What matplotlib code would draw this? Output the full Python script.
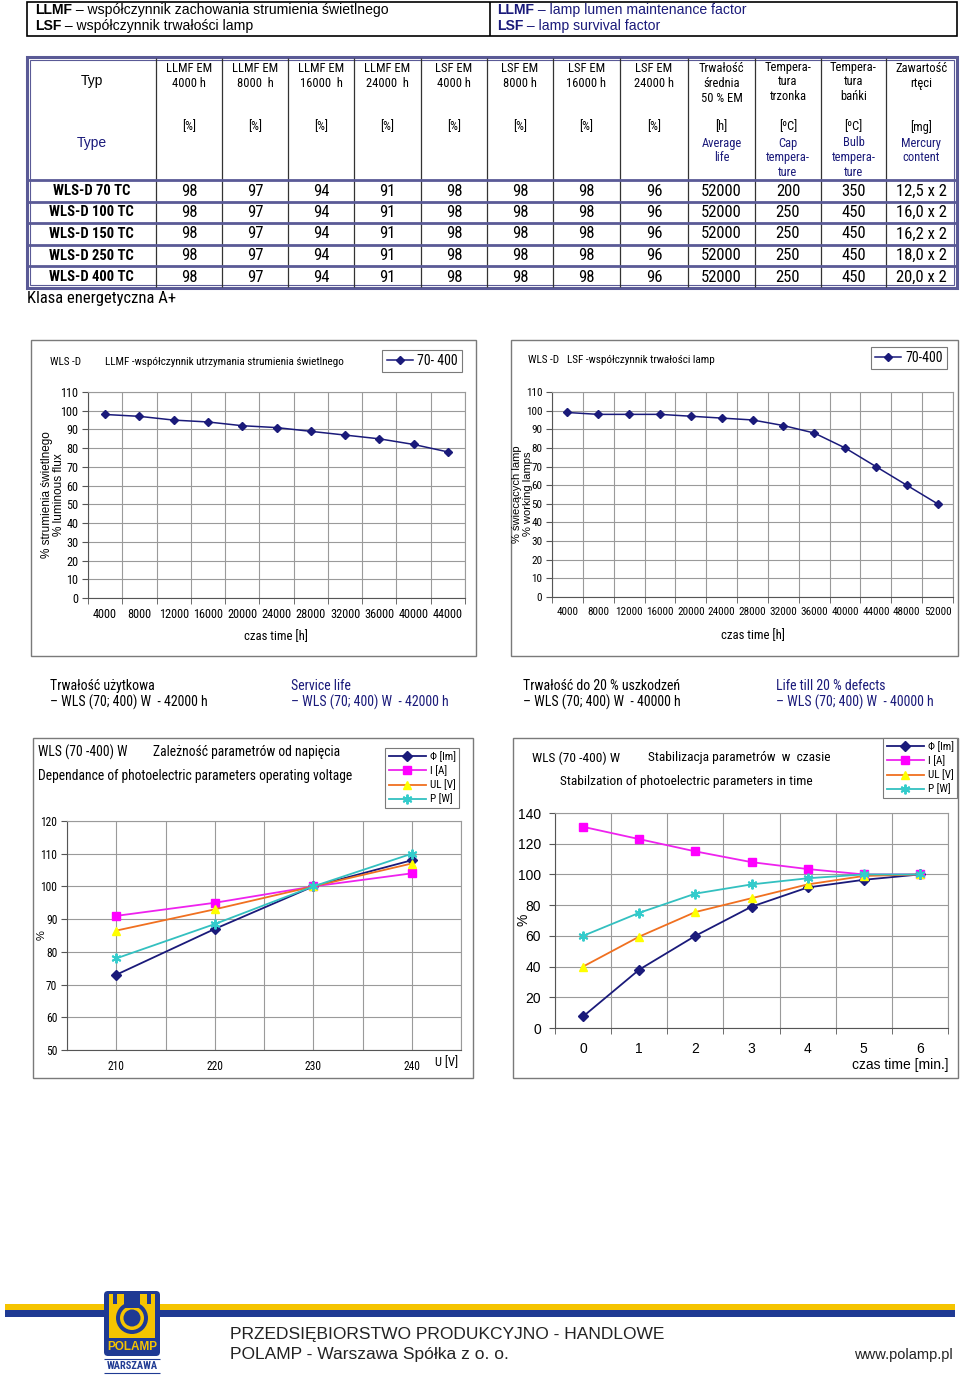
import numpy as np
import matplotlib
matplotlib.use("Agg")
import matplotlib.pyplot as plt
from matplotlib import font_manager as fm
from matplotlib.patches import Rectangle, FancyBboxPatch, Circle
from matplotlib.lines import Line2D

# -------------------------------------------------------------
#  DATA
# -------------------------------------------------------------

lamp_types = ["WLS-D 70 TC", "WLS-D 100 TC", "WLS-D 150 TC", "WLS-D 250 TC", "WLS-D 400 TC"]
llmf_table = [98, 97, 94, 91]          # LLMF EM 4000 / 8000 / 16000 / 24000 h
lsf_table = [98, 98, 98, 96]           # LSF EM 4000 / 8000 / 16000 / 24000 h
average_life = [52000, 52000, 52000, 52000, 52000]
cap_temp = [200, 250, 250, 250, 250]
bulb_temp = [350, 450, 450, 450, 450]
mercury = ["12,5 x 2", "16,0 x 2", "16,2 x 2", "18,0 x 2", "20,0 x 2"]

llmf_hours = [4000, 8000, 12000, 16000, 20000, 24000, 28000, 32000, 36000, 40000, 44000]
llmf_values = [98, 97, 95, 94, 92, 91, 89, 87, 85, 82, 78]

lsf_hours = [4000, 8000, 12000, 16000, 20000, 24000, 28000, 32000, 36000, 40000, 44000, 48000, 52000]
lsf_values = [99, 98, 98, 98, 97, 96, 95, 92, 88, 80, 70, 60, 50]

voltage = [210, 220, 230, 240]
v_flux = [73, 87, 100, 108]
v_current = [91, 95, 100, 104]
v_lamp_voltage = [86.5, 93, 100, 107]
v_power = [78, 88.5, 100, 110]

minutes = [0, 1, 2, 3, 4, 5, 6]
t_flux = [7.5, 38, 60, 79, 91.5, 96.5, 100]
t_current = [131, 123, 115, 108, 103.5, 100, 100]
t_lamp_voltage = [40, 59.5, 75.5, 84.5, 93.5, 99, 100]
t_power = [60, 75, 87.5, 93.5, 97.5, 100, 100]

series_names = ["Φ [lm]", "I [A]", "UL [V]", "P [W]"]

# -------------------------------------------------------------
#  FONTS  (look for a narrow face, otherwise shrink Liberation Sans)
# -------------------------------------------------------------

SANS = ["Liberation Sans", "DejaVu Sans"]
entries = fm.fontManager.ttflist
names = {f.name for f in entries}
NARROW, NSTRETCH, NS = SANS, "normal", 0.84
for cand in ["Liberation Sans Narrow", "Arial Narrow", "Roboto Condensed", "Open Sans Condensed"]:
    if cand in names:
        NARROW, NSTRETCH, NS = [cand, "DejaVu Sans"], "normal", 1.0
        break
else:
    for fam in ["Roboto", "Open Sans", "Noto Sans", "DejaVu Sans"]:
        if any(f.name == fam and f.stretch in ("condensed", "semi-condensed") for f in entries):
            NARROW, NSTRETCH, NS = [fam, "DejaVu Sans"], "condensed", 0.95
            break

W, H = 960, 1377
NAVY = "#1a1a7a"
GRID = "#9a9a9a"
FRAME = "#7a7a7a"
BORDER = "#5a5a96"

plt.rcParams["font.family"] = SANS

fig = plt.figure(figsize=(W / 100, H / 100), dpi=100)
fig.patch.set_facecolor("white")

bg = fig.add_axes([0, 0, 1, 1])
bg.set_xlim(0, W)
bg.set_ylim(H, 0)
bg.axis("off")


def nprop(size):
    return {"family": NARROW, "size": size * NS, "stretch": NSTRETCH}


def txt(x, y, s, size=10, narrow=False, ha="left", color="black", weight="normal", **kw):
    if narrow:
        return bg.text(x, y, s, fontsize=size * NS, family=NARROW, fontstretch=NSTRETCH,
                       ha=ha, va="center", color=color, fontweight=weight, **kw)
    return bg.text(x, y, s, fontsize=size, family=SANS, ha=ha, va="center",
                   color=color, fontweight=weight, **kw)


def hline(x0, x1, y, lw=1, color="black"):
    bg.plot([x0, x1], [y, y], color=color, lw=lw, solid_capstyle="butt")


def vline(x, y0, y1, lw=1, color="black"):
    bg.plot([x, x], [y0, y1], color=color, lw=lw, solid_capstyle="butt")


def ax_at(x0, y0, x1, y1):
    return fig.add_axes([x0 / W, 1 - y1 / H, (x1 - x0) / W, (y1 - y0) / H])


renderer = fig.canvas.get_renderer()


def bold_then_normal(x, y, bold, rest, size, color="black"):
    t = txt(x, y, bold, size, color=color, weight="bold")
    w = t.get_window_extent(renderer).width
    txt(x + w, y, rest, size, color=color)


# -------------------------------------------------------------
#  TOP BOX
# -------------------------------------------------------------

bg.add_patch(Rectangle((27, 2), 930, 34, fill=False, lw=1.2, ec="black"))
vline(490, 2, 36, lw=1.2)
bold_then_normal(35, 10, "LLMF", " – współczynnik zachowania strumienia świetlnego", 10.1)
bold_then_normal(35, 26, "LSF", " – współczynnik trwałości lamp", 10.1)
bold_then_normal(497, 10, "LLMF", " – lamp lumen maintenance factor", 10.1, color=NAVY)
bold_then_normal(497, 26, "LSF", " – lamp survival factor", 10.1, color=NAVY)

# -------------------------------------------------------------
#  TABLE
# -------------------------------------------------------------

col_edges = [27, 156, 222, 288, 354, 421, 487, 553, 620, 688, 755, 821, 886, 957]
row_edges = [57, 180, 202, 223, 245, 266, 288]
centers = [(col_edges[i] + col_edges[i + 1]) / 2 for i in range(len(col_edges) - 1)]

bg.add_patch(Rectangle((27, 57), 930, 231, fill=False, lw=2.2, ec=BORDER))
bg.add_patch(Rectangle((30, 60), 924, 225, fill=False, lw=0.8, ec=BORDER))
for x in col_edges[1:-1]:
    vline(x, 58, 287, lw=0.9, color="#333333")
for y in row_edges[1:-1]:
    hline(28, 956, y, lw=2.0, color=BORDER)

hdr_top = [["LLMF EM", "4000 h"], ["LLMF EM", "8000  h"], ["LLMF EM", "16000  h"],
           ["LLMF EM", "24000  h"], ["LSF EM", "4000 h"], ["LSF EM", "8000 h"],
           ["LSF EM", "16000 h"], ["LSF EM", "24000 h"],
           ["Trwałość", "średnia", "50 % EM"], ["Tempera-", "tura", "trzonka"],
           ["Tempera-", "tura", "bańki"], ["Zawartość", "rtęci"]]
hdr_unit = ["[%]"] * 8 + ["[h]", "[ºC]", "[ºC]", "[mg]"]
hdr_en = [[], [], [], [], [], [], [], [], ["Average", "life"], ["Cap", "tempera-", "ture"],
          ["Bulb", "tempera-", "ture"], ["Mercury", "content"]]

txt(centers[0], 81, "Typ", 10, ha="center")
txt(centers[0], 143, "Type", 10, ha="center", color=NAVY)
for i, lines in enumerate(hdr_top):
    y0 = 67 if lines[0].startswith("Tempera") else 69
    for k, s in enumerate(lines):
        txt(centers[i + 1], y0 + 14.5 * k, s, 9, narrow=True, ha="center")
    txt(centers[i + 1], 127, hdr_unit[i], 9, narrow=True, ha="center")
    for k, s in enumerate(hdr_en[i]):
        txt(centers[i + 1], 143 + 14.5 * k, s, 9, narrow=True, ha="center", color=NAVY)

for r, name in enumerate(lamp_types):
    y = (row_edges[r + 1] + row_edges[r + 2]) / 2
    txt(centers[0], y, name, 10.5, narrow=True, ha="center", weight="bold")
    vals = llmf_table + lsf_table + [average_life[r], cap_temp[r], bulb_temp[r]]
    for c, v in enumerate(vals):
        txt(centers[c + 1], y, str(v), 12, narrow=True, ha="center")
    txt(centers[12], y, mercury[r], 12, narrow=True, ha="center")

txt(27, 298, "Klasa energetyczna A+", 12, narrow=True)

# -------------------------------------------------------------
#  CHART HELPERS
# -------------------------------------------------------------


def style_axes(ax, n, ylim, ystep, labels, tick_size=8, half_grid=False, narrow=True):
    x = np.arange(n)
    ax.set_xlim(-0.5, n - 0.5)
    ax.set_ylim(*ylim)
    ax.set_yticks(np.arange(ylim[0], ylim[1] + 0.1, ystep))
    ax.set_xticks(x)
    ax.set_xticklabels(labels)
    ax.set_xticks(np.arange(-0.5, n, 1.0 if not half_grid else 0.5), minor=True)
    ax.grid(True, which="minor", axis="x", color=GRID, lw=0.8)
    ax.grid(True, which="major", axis="y", color=GRID, lw=0.8)
    if half_grid:
        ax.grid(True, which="major", axis="x", color=GRID, lw=0.8)
    ax.tick_params(axis="x", which="major", length=0, pad=7)
    ax.tick_params(axis="x", which="minor", length=4, color="#555555")
    ax.tick_params(axis="y", length=4, color="#555555", pad=3)
    for lab in ax.get_xticklabels() + ax.get_yticklabels():
        if narrow:
            lab.set_family(NARROW)
            lab.set_fontstretch(NSTRETCH)
            lab.set_fontsize(tick_size * NS)
        else:
            lab.set_family(SANS)
            lab.set_fontsize(tick_size)
    for side in ["top", "right"]:
        ax.spines[side].set_color(GRID)
        ax.spines[side].set_linewidth(0.8)
    for side in ["left", "bottom"]:
        ax.spines[side].set_color("#555555")
        ax.spines[side].set_linewidth(0.8)
    ax.set_axisbelow(True)


def legend_at(ax, handles, labels, x1, y0, size=8.5, hl=2.6):
    lg = ax.legend(handles=handles, labels=labels, loc="upper right",
                   bbox_to_anchor=(x1 / W, 1 - y0 / H),
                   bbox_transform=fig.transFigure, borderaxespad=0, fancybox=False,
                   edgecolor=FRAME, framealpha=1, handlelength=hl, handletextpad=0.3,
                   borderpad=0.3, labelspacing=0.3, prop=nprop(size))
    lg.get_frame().set_linewidth(0.8)
    return lg


# -------------------------------------------------------------
#  CHART 1 - LLMF
# -------------------------------------------------------------

bg.add_patch(Rectangle((31, 340), 445, 316, fill=False, lw=1, ec=FRAME))
ax1 = ax_at(88, 392, 465, 598)
style_axes(ax1, len(llmf_hours), (0, 110), 10, [str(h) for h in llmf_hours], tick_size=8.8)
ax1.plot(np.arange(len(llmf_hours)), llmf_values, color=NAVY, lw=1.1,
         marker="D", ms=4, mfc=NAVY, mec=NAVY)
txt(50, 362, "WLS -D", 8, narrow=True)
txt(105, 362, "LLMF -współczynnik utrzymania strumienia świetlnego", 8, narrow=True)
txt(276, 637, "czas time [h]", 9.2, narrow=True, ha="center")
txt(47, 495, "% strumienia świetlnego", 8.5, ha="center", rotation=90)
txt(59, 495, "% luminous flux", 8.5, ha="center", rotation=90)
legend_at(ax1, [Line2D([], [], color=NAVY, marker="D", ms=4, lw=1.1)], ["70- 400"], 462, 350,
          size=10, hl=1.9)

# -------------------------------------------------------------
#  CHART 2 - LSF
# -------------------------------------------------------------

bg.add_patch(Rectangle((511, 340), 447, 316, fill=False, lw=1, ec=FRAME))
ax2 = ax_at(552, 392, 953, 597)
style_axes(ax2, len(lsf_hours), (0, 110), 10, [str(h) for h in lsf_hours], tick_size=8)
ax2.plot(np.arange(len(lsf_hours)), lsf_values, color=NAVY, lw=1.1,
         marker="D", ms=4, mfc=NAVY, mec=NAVY)
txt(528, 360, "WLS -D", 8, narrow=True)
txt(567, 360, "LSF -współczynnik trwałości lamp", 8, narrow=True)
txt(753, 636, "czas time [h]", 9.2, narrow=True, ha="center")
txt(517, 494, "% świecących lamp", 8, ha="center", rotation=90)
txt(528, 494, "% working lamps", 8, ha="center", rotation=90)
legend_at(ax2, [Line2D([], [], color=NAVY, marker="D", ms=4, lw=1.1)], ["70-400"], 947, 347,
          size=10, hl=1.9)

# -------------------------------------------------------------
#  MIDDLE TEXT
# -------------------------------------------------------------

for x, col, head, line in [(50, "black", "Trwałość użytkowa", "– WLS (70; 400) W  - 42000 h"),
                           (291, NAVY, "Service life", "– WLS (70; 400) W  - 42000 h"),
                           (523, "black", "Trwałość do 20 % uszkodzeń", "– WLS (70; 400) W  - 40000 h"),
                           (776, NAVY, "Life till 20 % defects", "– WLS (70; 400) W  - 40000 h")]:
    txt(x, 686, head, 10, narrow=True, color=col)
    txt(x, 702, line, 10, narrow=True, color=col)

# -------------------------------------------------------------
#  CHART 3 - VOLTAGE DEPENDENCE
# -------------------------------------------------------------

styles = [
    dict(color=NAVY, marker="D", ms=5, mfc=NAVY, mec=NAVY),
    dict(color="#ee22ee", marker="s", ms=5.5, mfc="#ff00ff", mec="#ff00ff"),
    dict(color="#f07020", marker="^", ms=6, mfc="#ffff00", mec="#ffff00"),
    dict(color="#33c0c0", marker=(6, 2, 0), ms=7, mfc="#33cccc", mec="#33cccc", mew=1.4),
]

bg.add_patch(Rectangle((33, 738), 440, 340, fill=False, lw=1, ec=FRAME))
ax3 = ax_at(67, 821, 461, 1050)
style_axes(ax3, len(voltage), (50, 120), 10, [str(v) for v in voltage], tick_size=8.3,
           half_grid=True)
ax3.tick_params(axis="x", which="minor", length=0)
for vals, st in zip([v_flux, v_current, v_lamp_voltage, v_power], styles):
    ax3.plot(np.arange(len(voltage)), vals, lw=1.3, **st)
txt(38, 752, "WLS (70 -400) W", 9.8, narrow=True)
txt(153, 752, "Zależność parametrów od napięcia", 9.8, narrow=True)
txt(38, 776, "Dependance of photoelectric parameters operating voltage", 9.8, narrow=True)
txt(42, 935, "%", 8, rotation=90, ha="center")
txt(447, 1063, "U [V]", 9, narrow=True, ha="center")
legend_at(ax3, ax3.get_lines(), series_names, 459, 748, size=8, hl=3.4)

# -------------------------------------------------------------
#  CHART 4 - STABILIZATION IN TIME
# -------------------------------------------------------------

bg.add_patch(Rectangle((513, 738), 445, 340, fill=False, lw=1, ec=FRAME))
ax4 = ax_at(555, 813, 948, 1028)
style_axes(ax4, len(minutes), (0, 140), 20, [str(m) for m in minutes], tick_size=10,
           narrow=False)
ax4.tick_params(axis="y", pad=6)
ax4.tick_params(axis="x", which="major", pad=10)
for vals, st in zip([t_flux, t_current, t_lamp_voltage, t_power], styles):
    ax4.plot(np.arange(len(minutes)), vals, lw=1.3, **st)
txt(532, 758, "WLS (70 -400) W", 9.6, narrow=True)
txt(648, 758, "Stabilizacja parametrów  w  czasie", 9.6, narrow=True)
txt(560, 781, "Stabilzation of photoelectric parameters in time", 9.6, narrow=True)
txt(524, 920, "%", 10, rotation=90, ha="center")
txt(948, 1065, "czas time [min.]", 10, ha="right")
legend_at(ax4, ax4.get_lines(), series_names, 957, 738, size=8, hl=3.4)

# -------------------------------------------------------------
#  FOOTER
# -------------------------------------------------------------

bg.add_patch(Rectangle((5, 1304), 950, 6, color="#f5c400", lw=0))
bg.add_patch(Rectangle((5, 1310), 950, 7, color="#1f3a93", lw=0))

bg.add_patch(FancyBboxPatch((104, 1291), 56, 65, boxstyle="round,pad=0,rounding_size=4",
                            fc="#1f3a93", ec="none", zorder=3))
bg.add_patch(Rectangle((109, 1294), 46, 44, fc="#f5c400", ec="none", zorder=4))
bg.add_patch(Circle((132, 1318), 16, fc="#1f3a93", ec="none", zorder=5))
bg.add_patch(Circle((132, 1318), 12, fc="#f5c400", ec="none", zorder=6))
bg.add_patch(Circle((132, 1318), 8.5, fc="#1f3a93", ec="none", zorder=7))
bg.add_patch(Rectangle((124, 1294), 16, 14, fc="#1f3a93", ec="none", zorder=8))
bg.add_patch(Rectangle((113, 1294), 4, 10, fc="#1f3a93", ec="none", zorder=8))
bg.add_patch(Rectangle((147, 1294), 4, 10, fc="#1f3a93", ec="none", zorder=8))
bg.text(132, 1347, "POLAMP", fontsize=8.5, fontweight="bold", family=SANS, color="#f5c400",
        ha="center", va="center", zorder=9)
hline(104, 160, 1359, lw=0.8, color="#1f3a93")
txt(132, 1366, "WARSZAWA", 7.5, narrow=True, ha="center", color="#1f3a93", weight="bold")
hline(104, 160, 1373, lw=0.8, color="#1f3a93")

txt(230, 1335, "PRZEDSIĘBIORSTWO PRODUKCYJNO - HANDLOWE", 12.5, color="#222222")
txt(230, 1355, "POLAMP - Warszawa Spółka z o. o.", 12.5, color="#222222")
txt(953, 1355, "www.polamp.pl", 10.5, ha="right", color="#222222")

fig.savefig("out.png", dpi=100, facecolor="white")
